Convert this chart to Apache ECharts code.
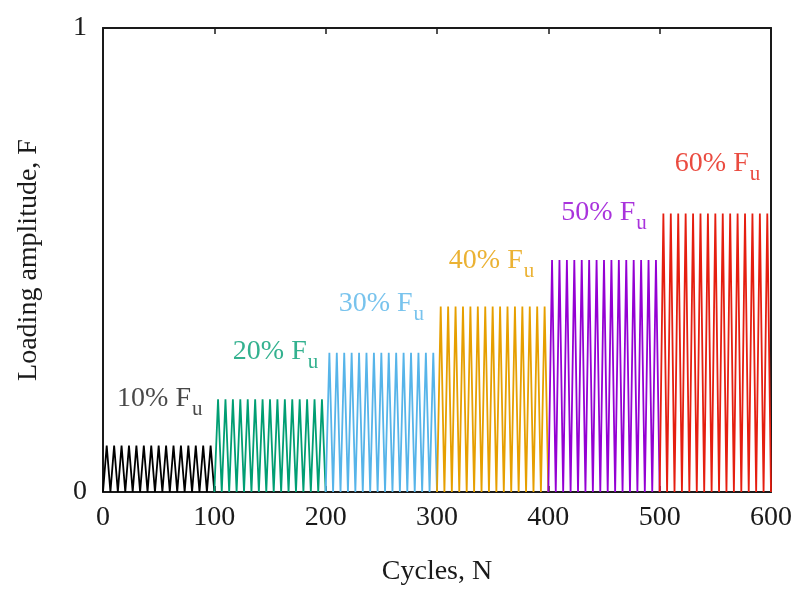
<!DOCTYPE html>
<html>
<head>
<meta charset="utf-8">
<script src="https://cdn.jsdelivr.net/npm/echarts@6/dist/echarts.min.js"></script>
<style>
  html, body { margin: 0; padding: 0; background: #fff; }
  #chart { width: 801px; height: 591px; }
</style>
</head>
<body>
<div id="chart"></div>
<script>
// Step-wise cyclic loading: each block of 100 cycles at a higher load level
const levelLabels = ['10%', '20%', '30%', '40%', '50%', '60%'];
const blockStart = [0, 100, 200, 300, 400, 500];   // first cycle of each block
const blockLength = [100, 100, 100, 100, 100, 100]; // cycles per block
const amplitudes = [0.1, 0.2, 0.3, 0.4, 0.5, 0.6];  // peak load (fraction of Fu)
const wavesPerBlock = [15, 15, 15, 15, 15, 15];     // drawn load waves in each block
const labelX = [51, 155, 250, 349, 450, 552];       // where each level label sits
const labelY = [0.198, 0.30, 0.403, 0.496, 0.60, 0.705];
const xTicks = [0, 100, 200, 300, 400, 500, 600];
const yTicks = [0, 1];
const colors = ['#000000', '#009e73', '#56b4e9', '#e69f00', '#9400d3', '#e51e10'];
const labelColors = ['#1a1a1a', '#009e73', '#56b4e9', '#e69f00', '#9400d3', '#e51e10'];

const FONT = '"Liberation Serif", "Times New Roman", serif';

// Triangular load history for one block: 0 -> peak -> 0 repeated
function blockPoints(i) {
  const pts = [];
  const n = wavesPerBlock[i] * 2;
  const step = blockLength[i] / n;
  for (let k = 0; k <= n; k++) {
    pts.push([blockStart[i] + k * step, k % 2 === 1 ? amplitudes[i] : 0]);
  }
  return pts;
}

const series = [];
levelLabels.forEach((lab, i) => {
  series.push({
    type: 'line',
    data: blockPoints(i),
    showSymbol: false,
    lineStyle: { color: colors[i], width: 1.8 },
    animation: false,
    z: 2
  });
});

// Level annotations "xx% Fu"
series.push({
  type: 'scatter',
  symbolSize: 0,
  silent: true,
  animation: false,
  z: 5,
  data: levelLabels.map((lab, i) => ({
    value: [labelX[i], labelY[i]],
    label: {
      show: true,
      position: 'inside',
      formatter: '{a|' + lab + ' F}{s|u}',
      rich: {
        a: { fontFamily: FONT, fontSize: 28, color: labelColors[i], verticalAlign: 'top', lineHeight: 30 },
        s: { fontFamily: FONT, fontSize: 21, color: labelColors[i], verticalAlign: 'top', lineHeight: 20, padding: [14, 0, 0, 1] }
      }
    }
  }))
});

const chart = echarts.init(document.getElementById('chart'), null, { renderer: 'canvas' });
chart.setOption({
  backgroundColor: '#ffffff',
  animation: false,
  grid: { left: 103, right: 30, top: 28, bottom: 99 },
  xAxis: [
    {
      type: 'value',
      min: xTicks[0],
      max: xTicks[xTicks.length - 1],
      interval: xTicks[1] - xTicks[0],
      name: 'Cycles, N',
      nameLocation: 'middle',
      nameGap: 66,
      nameTextStyle: { fontFamily: FONT, fontSize: 28, color: '#1a1a1a' },
      axisLine: { show: true, onZero: false, lineStyle: { color: '#1a1a1a', width: 2 } },
      axisTick: { show: true, inside: true, length: 6, lineStyle: { color: '#1a1a1a', width: 1.5 } },
      axisLabel: { fontFamily: FONT, fontSize: 28, color: '#1a1a1a', margin: 12 },
      splitLine: { show: false }
    },
    {
      type: 'value',
      position: 'top',
      min: xTicks[0],
      max: xTicks[xTicks.length - 1],
      interval: xTicks[1] - xTicks[0],
      axisLine: { show: true, onZero: false, lineStyle: { color: '#1a1a1a', width: 2 } },
      axisTick: { show: true, inside: true, length: 6, lineStyle: { color: '#1a1a1a', width: 1.5 } },
      axisLabel: { show: false },
      splitLine: { show: false }
    }
  ],
  yAxis: [
    {
      type: 'value',
      min: yTicks[0],
      max: yTicks[yTicks.length - 1],
      interval: yTicks[1] - yTicks[0],
      name: 'Loading amplitude, F',
      nameLocation: 'middle',
      nameGap: 60,
      nameTextStyle: { fontFamily: FONT, fontSize: 28, color: '#1a1a1a' },
      axisLine: { show: true, onZero: false, lineStyle: { color: '#1a1a1a', width: 2 } },
      axisTick: { show: false },
      axisLabel: { fontFamily: FONT, fontSize: 28, color: '#1a1a1a', margin: 16 },
      splitLine: { show: false }
    },
    {
      type: 'value',
      position: 'right',
      min: yTicks[0],
      max: yTicks[yTicks.length - 1],
      interval: yTicks[1] - yTicks[0],
      axisLine: { show: true, onZero: false, lineStyle: { color: '#1a1a1a', width: 2 } },
      axisTick: { show: false },
      axisLabel: { show: false },
      splitLine: { show: false }
    }
  ],
  series: series
});
</script>
</body>
</html>
